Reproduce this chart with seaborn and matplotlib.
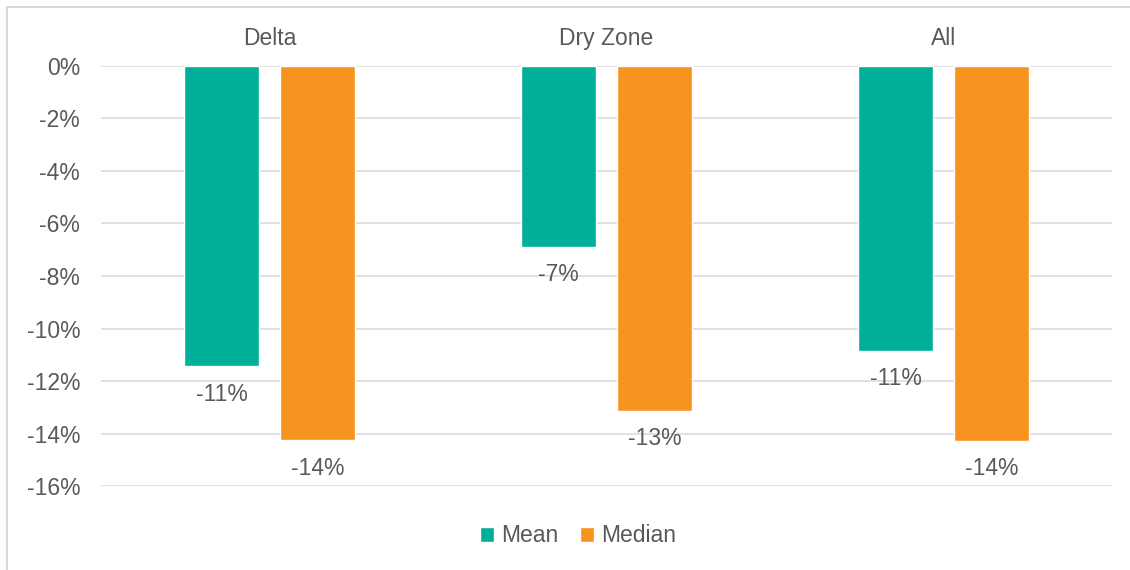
import numpy as np
import pandas as pd
import matplotlib
matplotlib.use("Agg")
import matplotlib.pyplot as plt
from matplotlib.lines import Line2D
import seaborn as sns

# Change by region (percent)
regions = ["Delta", "Dry Zone", "All"]
stats = ["Mean", "Median"]
mean_change = [-11.44, -6.88, -10.86]
median_change = [-14.25, -13.12, -14.27]
y_ticks = [0, -2, -4, -6, -8, -10, -12, -14, -16]

df = pd.DataFrame({
    "region": regions * 2,
    "stat": [stats[0]] * len(regions) + [stats[1]] * len(regions),
    "value": mean_change + median_change,
})

sns.set_theme(style="white")
plt.rcParams["font.family"] = ["Liberation Sans", "DejaVu Sans"]
plt.rcParams["axes.unicode_minus"] = False

text_color = "#595959"
grid_color = "#D9D9D9"
palette = ["#00AF9A", "#F7941F"]
fs = 16.5

fig = plt.figure(figsize=(11.3, 5.7), dpi=100)
ax = fig.add_axes([101 / 1130, 1 - 486.3 / 570, (1112 - 101) / 1130, (486.3 - 65.7) / 570])

sns.barplot(data=df, x="region", y="value", hue="stat", order=regions,
            hue_order=stats, palette=palette, width=0.57, gap=0.21,
            saturation=1, ax=ax, legend=True)

ax.set_ylim(-16, 0)
ax.set_xlim(-0.5, len(regions) - 0.5)
ax.set_yticks(y_ticks)
ax.set_yticklabels([f"{t}%" for t in y_ticks])
ax.yaxis.grid(True, color=grid_color, linewidth=1.1)
ax.xaxis.grid(False)
ax.set_axisbelow(True)
for s in ax.spines.values():
    s.set_visible(False)

ax.xaxis.tick_top()
ax.tick_params(axis="x", length=0, pad=11, labelsize=fs, labelcolor=text_color)
ax.tick_params(axis="y", length=0, pad=15, labelsize=fs, labelcolor=text_color)
ax.set_xlabel("")
ax.set_ylabel("")

# Value labels below each bar
for container in ax.containers:
    for bar in container:
        v = min(bar.get_y(), bar.get_y() + bar.get_height())
        ax.annotate(f"{v:.0f}%", (bar.get_x() + bar.get_width() / 2, v),
                    xytext=(0, -20), textcoords="offset points",
                    ha="center", va="center", fontsize=fs, color=text_color,
                    annotation_clip=False)

handles, labels = ax.get_legend_handles_labels()
ax.get_legend().remove()
fig.legend(handles, labels, loc="center", bbox_to_anchor=(578 / 1130, 1 - 536 / 570),
           ncol=2, frameon=False, fontsize=fs, labelcolor=text_color,
           handlelength=0.6, handleheight=0.6, handletextpad=0.3,
           columnspacing=0.95, borderaxespad=0)

# Light outer frame on the top and left
fig.add_artist(Line2D([7 / 1130, 1], [1 - 7 / 570, 1 - 7 / 570],
                      color=grid_color, linewidth=1.5, transform=fig.transFigure))
fig.add_artist(Line2D([7 / 1130, 7 / 1130], [0, 1 - 7 / 570],
                      color=grid_color, linewidth=1.5, transform=fig.transFigure))

fig.savefig("out.png", dpi=100, facecolor="white")
